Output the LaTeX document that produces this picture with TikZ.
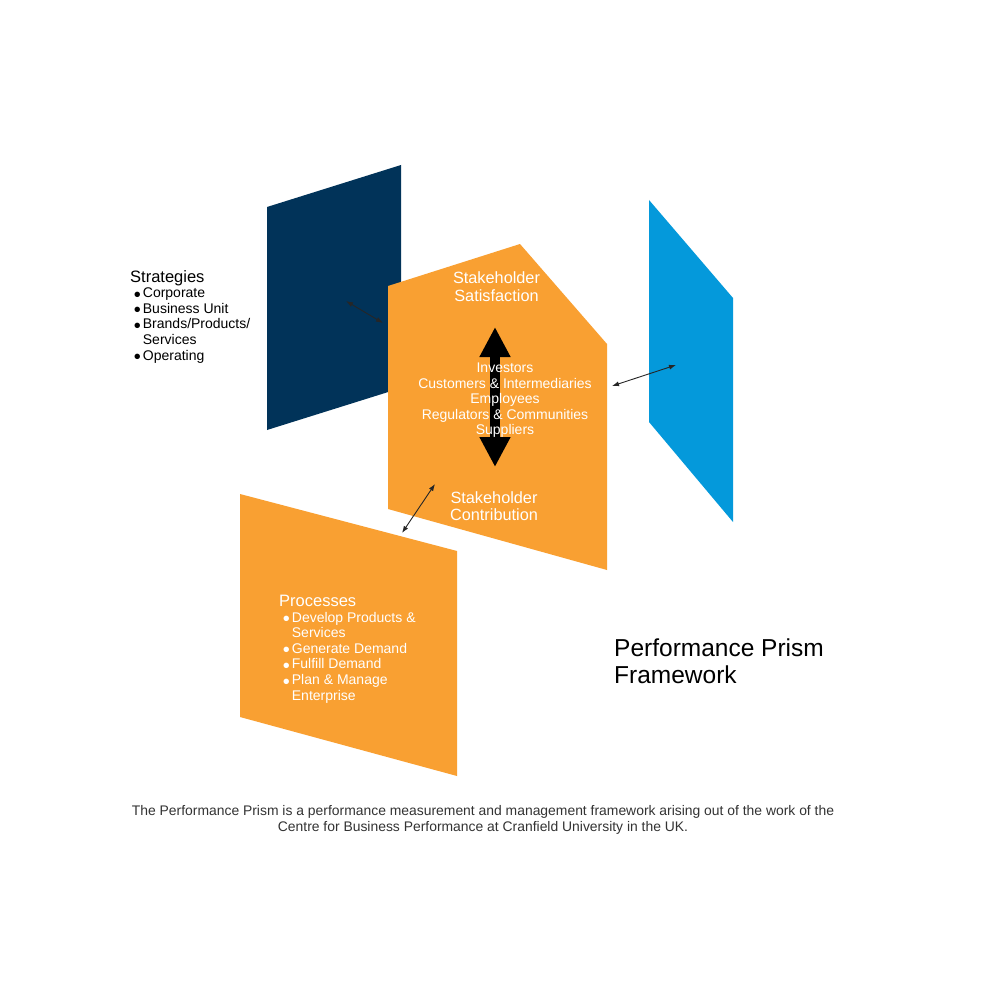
\documentclass[tikz,border=0pt]{standalone}
\usepackage{fontspec}
\setmainfont{Liberation Sans}
\usetikzlibrary{arrows.meta}
\definecolor{prismorange}{RGB}{249,160,50}
\definecolor{prismnavy}{RGB}{1,51,89}
\definecolor{prismblue}{RGB}{4,153,219}
\definecolor{notegray}{RGB}{51,51,51}
\newcommand{\prismdot}{\makebox[9pt][l]{\smash{\raisebox{-3.5pt}{\fontsize{20}{20}\selectfont\textbullet}}}}
\begin{document}
\begin{tikzpicture}[x=1pt,y=-1pt,
  link/.style={{Latex[length=7pt,width=5pt]}-{Latex[length=7pt,width=5pt]},line width=0.9pt,black!85},
  head/.style={text=white,align=center,inner sep=0pt,font=\fontsize{16.3}{17.5}\selectfont},
  names/.style={text=white,align=center,inner sep=0pt,font=\fontsize{14}{15.5}\selectfont},
  itemlist/.style={anchor=north west,inner sep=0pt,font=\fontsize{14}{15.6}\selectfont}]
\useasboundingbox[fill=white] (0,0) rectangle (1000,1000);
% the four faces of the prism
\fill[prismnavy] (267,207) -- (401,165) -- (401,388) -- (267,430) -- cycle;
\fill[prismorange] (388,286) -- (520,244) -- (607,344) -- (607,570) -- (388,509) -- cycle;
\fill[prismblue] (649,200) -- (733,298) -- (733,522) -- (649,422) -- cycle;
\fill[prismorange] (240,494) -- (457,551) -- (457,776) -- (240,717) -- cycle;
% satisfaction <-> contribution
\coordinate (sattip) at (495,327);
\coordinate (contip) at (495,467);
\draw[line width=9.5pt,{Triangle[width=29pt,length=30pt]}-{Triangle[width=29pt,length=30pt]}] (sattip) -- (contip);
% texts on the faces
\node[head] (sat) at (496.5,286.5) {Stakeholder\\Satisfaction};
\node[names] (who) at (505,400.5) {Investors\\Customers \& Intermediaries\\Employees\\Regulators \& Communities\\Suppliers};
\node[head] (con) at (494,506) {Stakeholder\\Contribution};
\node[itemlist] (strat) at (130,270) {%
  \begin{tabular}{@{\hspace{3.7pt}}l@{}l@{}}
  \multicolumn{2}{@{}l@{}}{\fontsize{16.5}{15.6}\selectfont Strategies}\\
  \prismdot & Corporate\\
  \prismdot & Business Unit\\
  \prismdot & Brands/Products/\\
   & Services\\
  \prismdot & Operating
  \end{tabular}};
\node[itemlist,text=white] (proc) at (279,595) {%
  \begin{tabular}{@{\hspace{3.7pt}}l@{}l@{}}
  \multicolumn{2}{@{}l@{}}{\fontsize{16.5}{15.6}\selectfont Processes}\\
  \prismdot & Develop Products \&\\
   & Services\\
  \prismdot & Generate Demand\\
  \prismdot & Fulfill Demand\\
  \prismdot & Plan \& Manage\\
   & Enterprise
  \end{tabular}};
% links between the faces
\coordinate (navyend) at (346,301);
\coordinate (navyface) at (383,323);
\draw[link] (navyend) -- (navyface);
\coordinate (blueface) at (612,386);
\coordinate (blueend) at (676,365);
\draw[link] (blueface) -- (blueend);
\coordinate (conface) at (435,484);
\coordinate (procface) at (402,533);
\draw[link] (conface) -- (procface);
% title and note
\node[anchor=north west,align=left,inner sep=0pt,font=\fontsize{24.5}{27.5}\selectfont] (title) at (614,638.5) {Performance Prism\\Framework};
\node[align=center,inner sep=0pt,text=notegray,font=\fontsize{13.9}{16}\selectfont] (note) at (483,820) {The Performance Prism is a performance measurement and management framework arising out of the work of the\\Centre for Business Performance at Cranfield University in the UK.};
\end{tikzpicture}
\end{document}
